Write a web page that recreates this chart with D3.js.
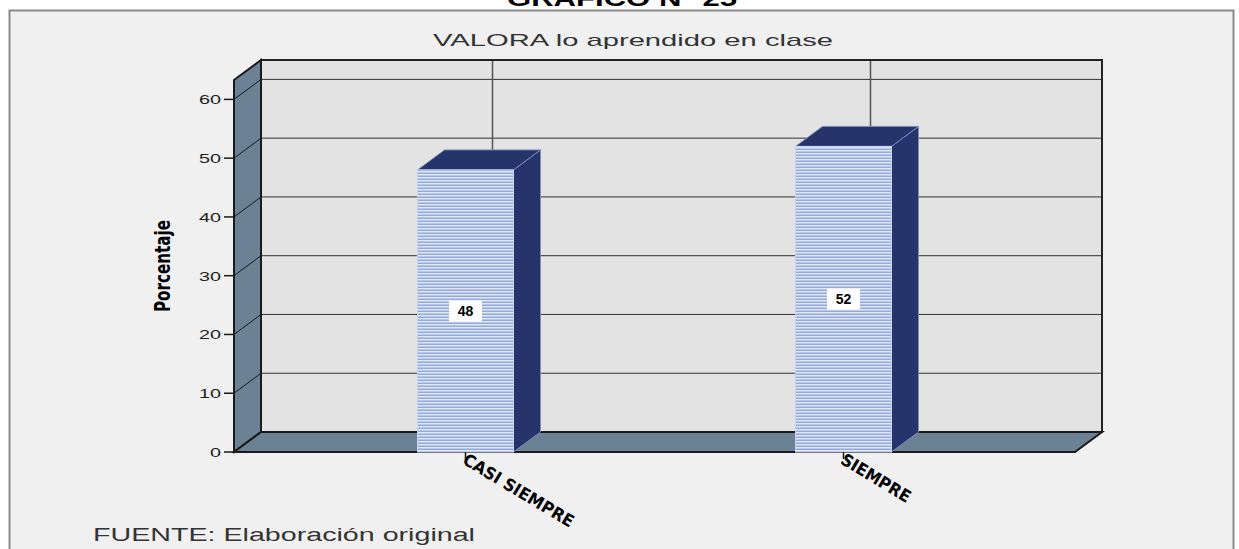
<!DOCTYPE html>
<html>
<head>
<meta charset="utf-8">
<script src="https://cdn.jsdelivr.net/npm/d3@7"></script>
<style>
  html, body { margin: 0; padding: 0; background: #ffffff; }
  svg { display: block; }
</style>
</head>
<body>
<div id="grafico"></div>
<script>
const categories = ["CASI SIEMPRE", "SIEMPRE"];
const percentages = [48, 52];
const yTicks = [0, 10, 20, 30, 40, 50, 60];
const chartTitle = "GRAFICO N° 25";
const subTitle = "VALORA lo aprendido en clase";
const yLabel = "Porcentaje";
const source = "FUENTE: Elaboración original";

const width = 1239;
const height = 549;
const depthX = 27;
const depthY = -20;
const barWidth = 96;

const svg = d3.select('#grafico')
    .append('svg')
    .attr('width', width)
    .attr('height', height);

const defs = svg.append('defs');
const pat = defs.append('pattern')
    .attr('id', 'stripes')
    .attr('patternUnits', 'userSpaceOnUse')
    .attr('width', 6)
    .attr('height', 3);
pat.append('rect').attr('width', 6).attr('height', 3).attr('fill', '#e0e8f8');
pat.append('rect').attr('y', 1.5).attr('width', 6).attr('height', 1.5).attr('fill', '#93a9db');

const y = d3.scaleLinear().domain([0, 63.3]).range([452, 80]);
const x = d3.scalePoint().domain(categories).range([234, 1075]).padding(0.6125);

const x0 = 234, x1 = 1075;
const yTop = y(63.3), yBot = y(0);

// marco exterior
svg.append('rect')
    .attr('x', 9.5).attr('y', 10.5)
    .attr('width', 1224).attr('height', 560)
    .attr('fill', '#f0f0f0')
    .attr('stroke', '#8a8a8a')
    .attr('stroke-width', 2);

// pared del fondo
svg.append('rect')
    .attr('x', x0 + depthX).attr('y', yTop + depthY)
    .attr('width', x1 - x0).attr('height', yBot - yTop)
    .attr('fill', '#e3e3e3');

// lineas de cuadricula
svg.selectAll('.grid')
    .data(yTicks.filter(d => d > 0))
    .enter()
    .append('line')
    .attr('x1', x0 + depthX).attr('x2', x1 + depthX)
    .attr('y1', d => y(d) + depthY).attr('y2', d => y(d) + depthY)
    .attr('stroke', '#333').attr('stroke-width', 1);

svg.selectAll('.vgrid')
    .data(categories)
    .enter()
    .append('line')
    .attr('x1', d => x(d) + depthX).attr('x2', d => x(d) + depthX)
    .attr('y1', yTop + depthY).attr('y2', yBot + depthY)
    .attr('stroke', '#555').attr('stroke-width', 1.5);

svg.append('rect')
    .attr('x', x0 + depthX).attr('y', yTop + depthY)
    .attr('width', x1 - x0).attr('height', yBot - yTop)
    .attr('fill', 'none')
    .attr('stroke', '#222').attr('stroke-width', 2);

// pared izquierda
svg.append('polygon')
    .attr('points', [[x0, yTop], [x0 + depthX, yTop + depthY], [x0 + depthX, yBot + depthY], [x0, yBot]].join(' '))
    .attr('fill', '#6b8194')
    .attr('stroke', '#1a1a1a').attr('stroke-width', 2);

svg.selectAll('.wallgrid')
    .data(yTicks.filter(d => d > 0))
    .enter()
    .append('line')
    .attr('x1', x0).attr('x2', x0 + depthX)
    .attr('y1', d => y(d)).attr('y2', d => y(d) + depthY)
    .attr('stroke', '#1a1a1a').attr('stroke-width', 1);

// piso
svg.append('polygon')
    .attr('points', [[x0, yBot], [x0 + depthX, yBot + depthY], [x1 + depthX, yBot + depthY], [x1, yBot]].join(' '))
    .attr('fill', '#6b8194')
    .attr('stroke', '#1a1a1a').attr('stroke-width', 2);

// barras
const bars = svg.selectAll('.bar')
    .data(categories.map((c, i) => ({ cat: c, val: percentages[i] })))
    .enter()
    .append('g')
    .attr('class', 'bar');

bars.append('polygon')
    .attr('points', d => {
        const l = x(d.cat) - barWidth / 2, r = l + barWidth, t = y(d.val);
        return [[r, t], [r + depthX, t + depthY], [r + depthX, yBot + depthY], [r, yBot]].join(' ');
    })
    .attr('fill', '#25346a')
    .attr('stroke', '#7f8db3').attr('stroke-width', 1);

bars.append('polygon')
    .attr('points', d => {
        const l = x(d.cat) - barWidth / 2, r = l + barWidth, t = y(d.val);
        return [[l, t], [l + depthX, t + depthY], [r + depthX, t + depthY], [r, t]].join(' ');
    })
    .attr('fill', '#25346a')
    .attr('stroke', '#7f8db3').attr('stroke-width', 1);

bars.append('rect')
    .attr('x', d => x(d.cat) - barWidth / 2)
    .attr('y', d => y(d.val))
    .attr('width', barWidth)
    .attr('height', d => yBot - y(d.val))
    .attr('fill', 'url(#stripes)')
    .attr('stroke', '#c8d4ee').attr('stroke-width', 1);

bars.append('rect')
    .attr('x', d => x(d.cat) - 16.5)
    .attr('y', d => (y(d.val) + yBot) / 2 - 10.5)
    .attr('width', 33).attr('height', 21)
    .attr('fill', '#ffffff');

bars.append('text')
    .attr('x', d => x(d.cat))
    .attr('y', d => (y(d.val) + yBot) / 2 + 5)
    .attr('text-anchor', 'middle')
    .attr('font-family', 'Arial, "Liberation Sans", sans-serif')
    .attr('font-weight', 'bold')
    .attr('font-size', '14px')
    .attr('fill', '#000')
    .text(d => d.val);

// eje y
svg.selectAll('.ytick')
    .data(yTicks)
    .enter()
    .append('line')
    .attr('x1', 224).attr('x2', x0)
    .attr('y1', d => y(d)).attr('y2', d => y(d))
    .attr('stroke', '#1a1a1a').attr('stroke-width', 1.5);

svg.selectAll('.ylab')
    .data(yTicks)
    .enter()
    .append('text')
    .attr('x', 221)
    .attr('y', d => y(d) + 5)
    .attr('text-anchor', 'end')
    .attr('font-family', 'Arial, "Liberation Sans", sans-serif')
    .attr('font-size', '13px')
    .attr('fill', '#222')
    .attr('textLength', d => String(d).length * 11)
    .attr('lengthAdjust', 'spacingAndGlyphs')
    .text(d => d);

svg.append('text')
    .attr('transform', 'translate(170,266) rotate(-90)')
    .attr('text-anchor', 'middle')
    .attr('font-family', '"Liberation Sans Narrow", "DejaVu Sans Condensed", Arial, sans-serif')
    .attr('font-weight', 'bold')
    .attr('font-size', '21px')
    .attr('fill', '#000')
    .attr('textLength', 92)
    .attr('lengthAdjust', 'spacingAndGlyphs')
    .text(yLabel);

// eje x
svg.selectAll('.xtick')
    .data(categories)
    .enter()
    .append('line')
    .attr('x1', d => x(d)).attr('x2', d => x(d))
    .attr('y1', yBot).attr('y2', yBot + 7)
    .attr('stroke', '#1a1a1a').attr('stroke-width', 1.5);

const xLabelLen = { "CASI SIEMPRE": 126, "SIEMPRE": 78 };
svg.selectAll('.xlab')
    .data(categories)
    .enter()
    .append('text')
    .attr('transform', d => `translate(${x(d) - 4},${yBot + 11}) rotate(31)`)
    .attr('text-anchor', 'start')
    .attr('font-family', '"Liberation Sans Narrow", "DejaVu Sans Condensed", Arial, sans-serif')
    .attr('font-weight', 'bold')
    .attr('font-size', '17px')
    .attr('fill', '#000')
    .attr('textLength', d => xLabelLen[d])
    .attr('lengthAdjust', 'spacingAndGlyphs')
    .text(d => d);

// titulos
svg.append('text')
    .attr('x', 507).attr('y', 6)
    .attr('font-family', 'Arial, "Liberation Sans", sans-serif')
    .attr('font-weight', 'bold')
    .attr('font-size', '22px')
    .attr('fill', '#000')
    .attr('textLength', 230)
    .attr('lengthAdjust', 'spacingAndGlyphs')
    .text(chartTitle);

svg.append('text')
    .attr('x', 433).attr('y', 46)
    .attr('font-family', 'Arial, "Liberation Sans", sans-serif')
    .attr('font-size', '17px')
    .attr('fill', '#333')
    .attr('textLength', 400)
    .attr('lengthAdjust', 'spacingAndGlyphs')
    .text(subTitle);

svg.append('text')
    .attr('x', 93).attr('y', 541)
    .attr('font-family', 'Arial, "Liberation Sans", sans-serif')
    .attr('font-size', '18px')
    .attr('fill', '#333')
    .attr('textLength', 382)
    .attr('lengthAdjust', 'spacingAndGlyphs')
    .text(source);
</script>
</body>
</html>
